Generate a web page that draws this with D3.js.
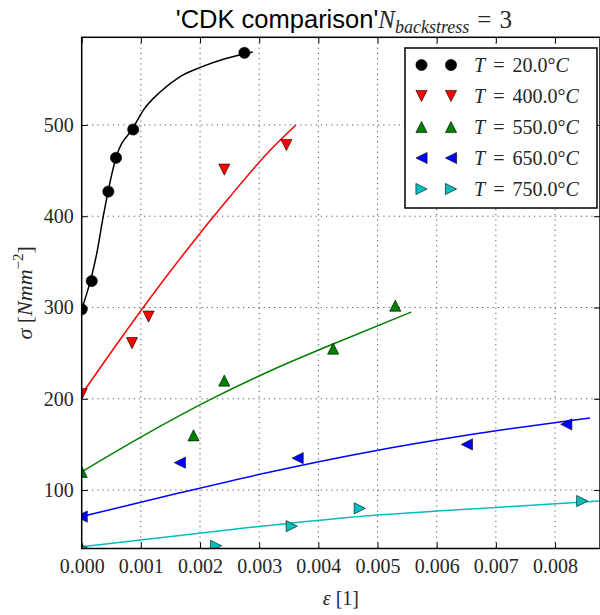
<!DOCTYPE html>
<html>
<head>
<meta charset="utf-8">
<script src="https://cdn.jsdelivr.net/npm/d3@7"></script>
<style>
  html, body { margin: 0; padding: 0; background: #fff; }
  svg { display: block; }
</style>
</head>
<body>
<svg id="chart" width="600" height="615"></svg>
<script>
// ---------- data ----------
const temperatures = ["20.0", "400.0", "550.0", "650.0", "750.0"];
const colors = ["#000000", "#ff0000", "#008000", "#0000ff", "#00bfbf"];
const markerTypes = ["circle", "down", "up", "left", "right"];

// experimental points
const expStrain20  = [0, 0.00017, 0.00045, 0.00058, 0.00087, 0.00275];
const expStress20  = [298, 329, 427, 464, 495, 579];
const expStrain400 = [0, 0.00085, 0.00113, 0.00241, 0.00346];
const expStress400 = [205, 261, 290, 451, 478];
const expStrain550 = [0, 0.00189, 0.00241, 0.00425, 0.0053];
const expStress550 = [120, 160, 220, 255, 302];
const expStrain650 = [0, 0.00166, 0.00365, 0.00651, 0.00819];
const expStress650 = [71, 130, 135, 150, 172];
const expStrain750 = [0, 0.00227, 0.00355, 0.0047, 0.00846];
const expStress750 = [37, 39, 60.5, 80, 88];

// model curves
const modStrain20  = [0, 0.00017, 0.000254, 0.000365, 0.000445, 0.00058, 0.000872, 0.00104, 0.001325, 0.001664, 0.002002, 0.002393, 0.00289];
const modStress20  = [298, 335, 359, 400, 427, 464, 497, 516, 536, 553, 563, 572, 580];
const modStrain400 = [0, 0.00065, 0.00113, 0.0018, 0.0025, 0.00318, 0.00362];
const modStress400 = [205, 265, 308, 365, 421, 472, 500];
const modStrain550 = [0, 0.001, 0.00217, 0.0032, 0.00425, 0.00557];
const modStress550 = [120, 158, 199, 231, 260, 295];
const modStrain650 = [0, 0.00166, 0.00313, 0.00487, 0.0065, 0.00859];
const modStress650 = [71, 97, 119, 142, 160, 179];
const modStrain750 = [0, 0.0025, 0.0045, 0.007, 0.00876];
const modStress750 = [38, 56.5, 70, 81, 88];

const xTicks = [0, 0.001, 0.002, 0.003, 0.004, 0.005, 0.006, 0.007, 0.008];
const yTicks = [100, 200, 300, 400, 500];
const xDomain = [0, 0.00876];
const yDomain = [36, 596];

const expStrain = [expStrain20, expStrain400, expStrain550, expStrain650, expStrain750];
const expStress = [expStress20, expStress400, expStress550, expStress650, expStress750];
const modStrain = [modStrain20, modStrain400, modStrain550, modStrain650, modStrain750];
const modStress = [modStress20, modStress400, modStress550, modStress650, modStress750];

// ---------- layout ----------
const L = 81.7, R = 600, T = 37.3, B = 548.5;
const svg = d3.select("#chart");
const x = d3.scaleLinear().domain(xDomain).range([L, R]);
const y = d3.scaleLinear().domain(yDomain).range([B, T]);
const serif = "'Liberation Serif', 'DejaVu Serif', serif";
const textCol = "#262626";

svg.append("defs").append("clipPath").attr("id", "plotclip")
  .append("rect").attr("x", L).attr("y", T).attr("width", R - L).attr("height", B - T);

// grid
const grid = svg.append("g").attr("stroke", "#555").attr("stroke-width", 1)
  .attr("stroke-dasharray", "1.2,4");
xTicks.filter(v => v > 0).forEach(v => {
  grid.append("line").attr("x1", x(v)).attr("x2", x(v)).attr("y1", T).attr("y2", B);
});
yTicks.forEach(v => {
  grid.append("line").attr("x1", L).attr("x2", R).attr("y1", y(v)).attr("y2", y(v));
});

// marker path generator
function markerPath(type, s) {
  if (type === "circle") {
    return `M${s},0A${s},${s} 0 1,1 ${-s},0A${s},${s} 0 1,1 ${s},0Z`;
  }
  if (type === "up") return `M0,${-s}L${-s},${s}L${s},${s}Z`;
  if (type === "down") return `M0,${s}L${-s},${-s}L${s},${-s}Z`;
  if (type === "left") return `M${-s},0L${s},${-s}L${s},${s}Z`;
  if (type === "right") return `M${s},0L${-s},${-s}L${-s},${s}Z`;
}
const MS = 5.6;

const plot = svg.append("g").attr("clip-path", "url(#plotclip)");
const line = d3.line().x(d => x(d[0])).y(d => y(d[1])).curve(d3.curveMonotoneX);

temperatures.forEach((t, i) => {
  const mod = modStrain[i].map((e, k) => [e, modStress[i][k]]);
  plot.append("path").attr("d", line(mod)).attr("fill", "none")
    .attr("stroke", colors[i]).attr("stroke-width", 1.5);
  const pts = expStrain[i].map((e, k) => [e, expStress[i][k]]);
  plot.selectAll(null).data(pts).enter().append("path")
    .attr("transform", d => `translate(${x(d[0])},${y(d[1])})`)
    .attr("d", markerPath(markerTypes[i], MS))
    .attr("fill", colors[i]).attr("stroke", "#000").attr("stroke-width", 0.6);
});

// axes (inward ticks)
const xAxisB = d3.axisBottom(x).tickValues(xTicks).tickSize(-6).tickPadding(10)
  .tickFormat(d3.format(".3f"));
const xAxisT = d3.axisTop(x).tickValues(xTicks).tickSize(-6).tickFormat("");
const yAxisL = d3.axisLeft(y).tickValues(yTicks).tickSize(-6).tickPadding(8)
  .tickFormat(d3.format("d"));
const yAxisR = d3.axisRight(y).tickValues(yTicks).tickSize(-6).tickFormat("");

function styleAxis(g) {
  g.select(".domain").remove();
  g.selectAll(".tick line").attr("stroke", "#000").attr("stroke-width", 1);
  g.selectAll(".tick text").attr("font-family", serif).attr("font-size", 20)
    .attr("fill", textCol);
}
svg.append("g").attr("transform", `translate(0,${B})`).call(xAxisB).call(styleAxis);
svg.append("g").attr("transform", `translate(0,${T})`).call(xAxisT).call(styleAxis);
svg.append("g").attr("transform", `translate(${L},0)`).call(yAxisL).call(styleAxis);
svg.append("g").attr("transform", `translate(${R},0)`).call(yAxisR).call(styleAxis);

// frame
svg.append("rect").attr("x", L).attr("y", T).attr("width", R - L).attr("height", B - T)
  .attr("fill", "none").attr("stroke", "#000").attr("stroke-width", 1.5);

// legend
const lg = svg.append("g");
lg.append("rect").attr("x", 405).attr("y", 48).attr("width", 192).attr("height", 160)
  .attr("fill", "#fff").attr("stroke", "#000").attr("stroke-width", 1.5);
temperatures.forEach((t, i) => {
  const ry = 65 + i * 31;
  [421.5, 451].forEach(mx => {
    lg.append("path").attr("transform", `translate(${mx},${ry})`)
      .attr("d", markerPath(markerTypes[i], MS))
      .attr("fill", colors[i]).attr("stroke", "#000").attr("stroke-width", 0.6);
  });
  const tx = lg.append("text").attr("x", 474).attr("y", ry + 7)
    .attr("font-family", serif).attr("font-size", 20).attr("fill", textCol);
  tx.append("tspan").attr("font-style", "italic").text("T");
  tx.append("tspan").attr("dx", 8).text("=");
  tx.append("tspan").attr("dx", 8).text(t + "°");
  tx.append("tspan").attr("font-style", "italic").text("C");
});

// title
const title = svg.append("text").attr("x", (L + R) / 2 + 3).attr("y", 28)
  .attr("text-anchor", "middle").attr("fill", "#000");
title.append("tspan").attr("font-family", "'Liberation Sans', Arial, sans-serif")
  .attr("font-size", 25.5).text("'CDK comparison'");
title.append("tspan").attr("font-family", serif).attr("font-size", 25)
  .attr("font-style", "italic").attr("fill", textCol).text("N");
title.append("tspan").attr("font-family", serif).attr("font-size", 18)
  .attr("font-style", "italic").attr("dy", 5).attr("fill", textCol).text("backstress");
title.append("tspan").attr("font-family", serif).attr("font-size", 25)
  .attr("dy", -5).attr("dx", 8).attr("fill", textCol).text("=");
title.append("tspan").attr("font-family", serif).attr("font-size", 25)
  .attr("dx", 8).attr("fill", textCol).text("3");

// axis labels
const xl = svg.append("text").attr("x", (L + R) / 2).attr("y", 605)
  .attr("text-anchor", "middle").attr("font-family", serif).attr("font-size", 20)
  .attr("fill", textCol);
xl.append("tspan").attr("font-style", "italic").text("ε");
xl.append("tspan").text(" [1]");

const yl = svg.append("text").attr("transform", `translate(32,${(T + B) / 2}) rotate(-90)`)
  .attr("text-anchor", "middle").attr("font-family", serif).attr("font-size", 22)
  .attr("fill", textCol);
yl.append("tspan").attr("font-style", "italic").text("σ");
yl.append("tspan").text(" [");
yl.append("tspan").attr("font-style", "italic").text("Nmm");
yl.append("tspan").attr("font-size", 15).attr("dy", -9).text("−2");
yl.append("tspan").attr("dy", 9).text("]");
</script>
</body>
</html>
